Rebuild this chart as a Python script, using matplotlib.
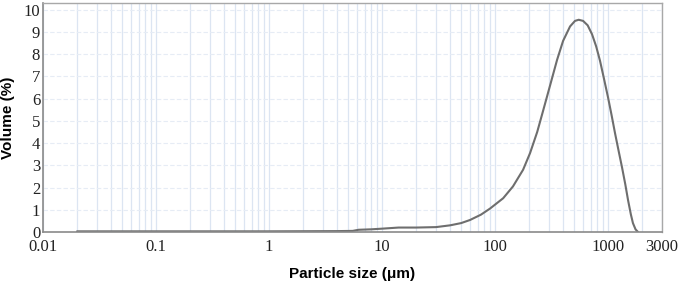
import matplotlib
matplotlib.use("Agg")
import matplotlib.pyplot as plt
import numpy as np
from matplotlib.ticker import FixedLocator, NullFormatter, LogLocator

# Particle size (um) and volume (%)
size_um = [0.02, 0.1, 1, 4, 5.5, 6.2, 8, 10, 14, 20, 30, 40, 50, 60, 75, 90,
           118, 144, 177, 204, 236, 266, 307, 354, 400, 461, 510, 550, 601,
           660, 721, 785, 849, 920, 1000, 1075, 1153, 1240, 1330, 1420, 1503,
           1590, 1660, 1750, 1840]
volume_pct = [0.03, 0.03, 0.03, 0.04, 0.05, 0.1, 0.12, 0.15, 0.2, 0.2, 0.22,
              0.3, 0.4, 0.54, 0.78, 1.05, 1.52, 2.05, 2.8, 3.55, 4.5, 5.45,
              6.6, 7.75, 8.6, 9.25, 9.5, 9.55, 9.5, 9.3, 8.9, 8.35, 7.7, 6.9,
              6.05, 5.25, 4.44, 3.65, 2.9, 2.15, 1.43, 0.8, 0.4, 0.12, 0.0]

x_ticks = [0.01, 0.1, 1, 10, 100, 1000, 3000]
x_tick_labels = ["0.01", "0.1", "1", "10", "100", "1000", "3000"]
y_ticks = list(range(0, 11))

fig = plt.figure(figsize=(6.85, 2.82), dpi=100)
ax = fig.add_axes([0.0628, 0.1773, 0.9036, 0.8117])

ax.plot(size_um, volume_pct, color="#6e6e6e", lw=1.5, solid_capstyle="round",
        solid_joinstyle="round")

ax.set_xscale("log")
ax.set_xlim(0.01, 3000)
ax.set_ylim(0, 10.3)

ax.xaxis.set_major_locator(FixedLocator(x_ticks))
ax.set_xticklabels(x_tick_labels)
ax.xaxis.set_minor_locator(LogLocator(base=10, subs=np.arange(2, 10), numticks=20))
ax.xaxis.set_minor_formatter(NullFormatter())
ax.set_yticks(y_ticks)

ax.grid(True, which="both", axis="x", color="#dce5f2", lw=0.9)
ax.grid(True, which="major", axis="y", color="#e6ecf5", lw=0.8, ls=(0, (4, 2)))
ax.set_axisbelow(True)

ax.tick_params(axis="both", which="both", length=0)
ax.tick_params(axis="x", pad=5)
ax.tick_params(axis="y", pad=2)
for lab in ax.get_xticklabels() + ax.get_yticklabels():
    lab.set_family("Liberation Serif")
    lab.set_fontsize(12)
    lab.set_color("#222222")

for s in ["left", "bottom"]:
    ax.spines[s].set_color("#8a8a8a")
    ax.spines[s].set_linewidth(1.2)
for s in ["top", "right"]:
    ax.spines[s].set_color("#a8a8a8")
    ax.spines[s].set_linewidth(1.0)

ax.set_xlabel("Particle size (μm)", family="Liberation Sans", fontweight="bold",
              fontsize=11, labelpad=9)
ax.set_ylabel("Volume (%)", family="Liberation Sans", fontweight="bold",
              fontsize=11, labelpad=6)

fig.savefig("out.png", dpi=100)
